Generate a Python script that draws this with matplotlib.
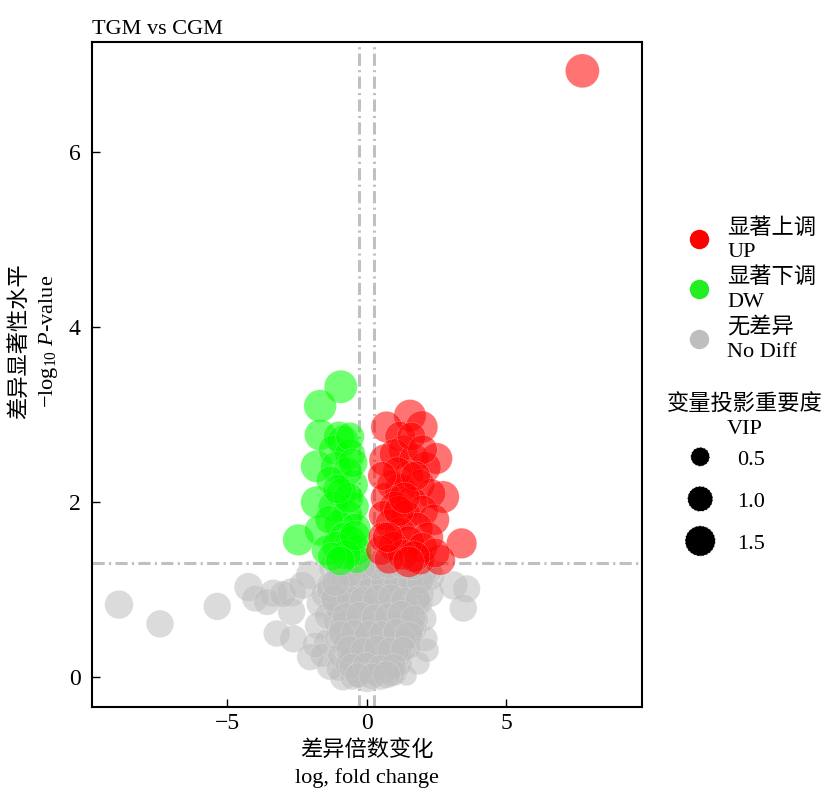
import matplotlib
matplotlib.use("Agg")
import matplotlib.pyplot as plt
from matplotlib.lines import Line2D

plt.rcParams['font.family'] = ['Liberation Serif', 'Noto Sans CJK SC']
plt.rcParams['mathtext.fontset'] = 'custom'
plt.rcParams['mathtext.rm'] = 'Liberation Serif'
plt.rcParams['mathtext.it'] = 'Liberation Serif:italic'

# significantly up-regulated (red)
up_x = [7.73, 1.55, 0.71, 1.97, 0.66, 2.51, 2.74, 3.40, 2.63, 1.91,
        1.20, 1.30, 1.00, 1.70, 2.10, 1.50, 0.90, 1.20, 1.90, 2.30,
        0.70, 1.60, 1.00, 2.00, 0.60, 1.40, 2.40, 0.85, 1.80, 1.20,
        2.20, 0.60, 1.50, 0.95, 2.00, 0.50, 1.30, 2.45, 1.70, 0.80,
        1.50, 1.10, 1.60, 2.00, 0.55, 1.15, 1.75, 0.75, 1.35]
up_y = [6.93, 2.99, 2.86, 2.86, 2.48, 2.50, 2.06, 1.53, 1.34, 1.34,
        2.75, 2.60, 2.55, 2.50, 2.40, 2.30, 2.20, 2.15, 2.20, 2.10,
        2.05, 2.00, 1.95, 1.90, 1.85, 1.85, 1.80, 1.75, 1.70, 1.65,
        1.60, 1.60, 1.55, 1.50, 1.48, 1.45, 1.40, 1.42, 1.38, 1.35,
        1.32, 2.35, 2.75, 2.60, 2.30, 1.90, 2.30, 1.60, 2.05]
up_vip = [1.90, 1.70, 1.60, 1.70, 1.70, 1.60, 1.70, 1.50, 1.50, 1.40,
          1.50, 1.40, 1.50, 1.40, 1.60, 1.50, 1.40, 1.60, 1.50, 1.40,
          1.60, 1.70, 1.50, 1.60, 1.40, 1.50, 1.60, 1.50, 1.70, 1.60,
          1.50, 1.50, 1.60, 1.40, 1.50, 1.40, 1.50, 1.40, 1.60, 1.40,
          1.60, 1.40, 1.30, 1.40, 1.30, 1.50, 1.40, 1.50, 1.60]

# significantly down-regulated (green)
dw_x = [-0.93, -1.67, -1.67, -1.79, -1.79, -2.45, -1.67, -1.43, -0.36, -1.00,
        -0.85, -1.20, -0.60, -1.10, -0.70, -0.50, -1.30, -0.90, -0.45, -1.20,
        -0.70, -1.00, -0.40, -1.35, -0.80, -0.55, -1.10, -0.35, -0.75, -1.25,
        -0.60, -0.50, -0.95, -0.65, -1.05, -0.42]
dw_y = [3.32, 3.10, 2.77, 2.41, 2.00, 1.57, 1.68, 1.45, 1.45, 2.75,
        2.70, 2.60, 2.55, 2.40, 2.35, 2.20, 2.25, 2.10, 1.95, 1.95,
        1.85, 1.75, 1.70, 1.80, 1.60, 1.55, 1.50, 1.35, 1.40, 1.38,
        2.75, 2.45, 1.33, 2.05, 2.15, 1.62]
dw_vip = [1.80, 1.75, 1.60, 1.70, 1.70, 1.60, 1.60, 1.50, 1.40, 1.50,
          1.60, 1.40, 1.50, 1.60, 1.40, 1.50, 1.30, 1.50, 1.40, 1.50,
          1.60, 1.40, 1.50, 1.30, 1.50, 1.60, 1.40, 1.30, 1.50, 1.30,
          1.30, 1.40, 1.40, 1.50, 1.40, 1.50]

# no difference (grey)
nd_x = [-8.88, -7.41, -5.36, -4.24, -4.00, -3.35, -3.58, -2.69, -2.69, -3.23,
        -2.63, -2.03, -2.03, -1.67, -1.73, -1.85, -1.32, -0.85, 1.85, 1.43,
        2.09, 2.03, 2.27, 3.10, 3.58, 3.46, 2.15, -3.00, -2.30, -1.50,
        -1.40, -1.45, -1.60, -1.00, -0.50, 0.00, 0.50, 1.00, 1.20, 1.50,
        1.70, 1.90, 2.30, 1.80,
        -1.22, -0.68, -0.17, 0.31, 0.83, 1.28, 1.77, 2.21,
        -0.98, -0.52, 0.04, 0.47, 1.03, 1.52, 2.02,
        -1.31, -0.79, -0.27, 0.22, 0.68, 1.19, 1.72,
        -1.07, -0.63, -0.12, 0.41, 0.92, 1.37, 1.96,
        -1.18, -0.71, -0.23, 0.28, 0.79, 1.33, 1.81,
        -0.97, -0.48, 0.02, 0.53, 1.04, 1.49,
        -1.12, -0.57, -0.08, 0.38, 0.91, 1.42, 1.78,
        -0.88, -0.42, 0.13, 0.61, 1.09, 1.58,
        -1.03, -0.51, 0.01, 0.49, 0.98, 1.36,
        -0.79, -0.31, 0.18, 0.72, 1.17,
        -0.92, -0.38, 0.09, 0.58, 1.12,
        -0.68, -0.21, 0.27, 0.83,
        -0.41, 0.12, 0.63,
        -0.95, -0.44, 0.07, 0.56, 1.06, 1.55, 2.05,
        -1.35, -0.85, -0.33, 0.17, 0.66, 1.16, 1.63,
        -1.01, -0.55, -0.04, 0.45, 0.97, 1.46,
        -0.83, -0.36, 0.16, 0.67, 1.14, 1.62,
        -0.72, -0.26, 0.24, 0.74, 1.27,
        -0.57, -0.07, 0.43, 0.94,
        -0.47, 0.03, 0.52, 1.02,
        -0.28, 0.33, 0.88,
        -0.82, -0.34, 0.14, 0.63, 1.11, 1.58, 1.92,
        -1.15, -0.62, -0.14, 0.36, 0.86, 1.34, 1.84,
        -0.76, -0.24, 0.26, 0.77, 1.24, 1.68,
        -0.93, -0.45, 0.06, 0.55, 1.07, 1.52,
        -0.61, -0.13, 0.37, 0.86, 1.31,
        -0.52, -0.02, 0.48, 0.96,
        -0.33, 0.19, 0.71,
        -0.18, 0.34, 0.78, 1.21, 1.63, -0.64, -1.12]
nd_y = [0.83, 0.61, 0.81, 1.03, 0.90, 0.96, 0.86, 0.97, 0.75, 0.50,
        0.44, 1.17, 0.23, 0.84, 0.59, 0.37, 0.12, 0.00, 0.16, 0.02,
        0.44, 0.67, 0.96, 1.05, 1.01, 0.79, 0.31, 0.95, 1.05, 0.95,
        0.70, 0.40, 0.25, 0.10, 0.00, -0.02, 0.00, 0.05, 0.15, 0.35,
        0.55, 0.85, 1.15, 1.05,
        1.25, 1.27, 1.24, 1.26, 1.25, 1.23, 1.26, 1.22,
        1.15, 1.14, 1.17, 1.15, 1.16, 1.13, 1.15,
        1.05, 1.06, 1.04, 1.07, 1.05, 1.03, 1.06,
        0.95, 0.96, 0.94, 0.95, 0.97, 0.93, 0.95,
        0.85, 0.86, 0.84, 0.87, 0.85, 0.83, 0.86,
        0.75, 0.76, 0.74, 0.75, 0.77, 0.73,
        0.65, 0.66, 0.64, 0.65, 0.67, 0.63, 0.66,
        0.55, 0.56, 0.54, 0.57, 0.55, 0.53,
        0.45, 0.46, 0.44, 0.45, 0.47, 0.43,
        0.35, 0.36, 0.34, 0.37, 0.35,
        0.25, 0.26, 0.24, 0.27, 0.25,
        0.15, 0.16, 0.14, 0.17,
        0.08, 0.07, 0.09,
        1.20, 1.21, 1.19, 1.20, 1.22, 1.18, 1.20,
        1.00, 1.01, 0.99, 1.00, 1.02, 0.98, 1.01,
        0.80, 0.81, 0.79, 0.80, 0.82, 0.78,
        0.60, 0.61, 0.59, 0.60, 0.62, 0.58,
        0.40, 0.41, 0.39, 0.40, 0.42,
        0.20, 0.21, 0.19, 0.20,
        0.30, 0.31, 0.29, 0.30,
        0.03, 0.04, 0.05,
        1.10, 1.09, 1.11, 1.10, 1.08, 1.12, 1.10,
        0.90, 0.91, 0.89, 0.90, 0.92, 0.88, 0.90,
        0.70, 0.71, 0.69, 0.70, 0.72, 0.68,
        0.50, 0.51, 0.49, 0.50, 0.52, 0.48,
        0.32, 0.31, 0.33, 0.30, 0.32,
        0.12, 0.13, 0.11, 0.12,
        0.02, 0.01, 0.03,
        1.28, 1.27, 1.28, 1.29, 1.27, 1.18, 1.08]
nd_vip = [1.30, 1.20, 1.20, 1.30, 1.10, 1.20, 1.10, 1.30, 1.20, 1.10,
          1.20, 1.30, 1.10, 1.20, 1.20, 1.00, 1.10, 1.10, 0.80, 0.60,
          1.00, 1.10, 1.20, 1.30, 1.20, 1.20, 0.90, 1.10, 1.20, 1.20,
          1.10, 1.00, 0.90, 1.00, 1.00, 1.10, 1.00, 1.00, 0.90, 1.00,
          1.00, 1.10, 1.20, 1.10,
          1.20, 1.10, 1.00, 1.20, 1.10, 1.30, 1.00, 1.20,
          1.00, 1.20, 0.90, 1.10, 1.20, 1.00, 1.10,
          1.10, 0.90, 1.20, 1.00, 1.10, 1.20, 1.00,
          1.20, 1.00, 1.10, 0.90, 1.20, 1.10, 1.00,
          0.90, 1.10, 1.00, 1.20, 0.90, 1.10, 1.20,
          1.10, 1.20, 0.90, 1.00, 1.10, 1.20,
          1.00, 1.10, 1.20, 0.90, 1.00, 1.10, 0.90,
          1.20, 0.90, 1.10, 1.00, 1.20, 1.00,
          1.10, 1.00, 1.20, 0.90, 1.10, 0.90,
          1.00, 1.20, 1.10, 0.90, 1.00,
          1.10, 0.90, 1.20, 1.00, 1.10,
          1.00, 1.10, 0.90, 1.00,
          1.10, 1.00, 1.20,
          1.20, 1.10, 1.00, 1.20, 1.10, 1.00, 1.10,
          1.00, 1.20, 1.10, 1.00, 1.20, 1.10, 1.00,
          1.10, 1.00, 1.20, 1.10, 1.00, 1.20,
          1.20, 1.10, 1.00, 1.20, 1.10, 1.00,
          1.00, 1.20, 1.10, 1.00, 1.20,
          1.10, 1.00, 1.20, 1.10,
          1.20, 1.10, 1.00, 1.20,
          1.10, 1.00, 1.20,
          1.10, 1.20, 1.00, 1.10, 1.20, 1.00, 1.10,
          1.20, 1.00, 1.10, 1.20, 1.00, 1.10, 1.00,
          1.10, 1.20, 1.00, 1.10, 1.20, 1.00,
          1.00, 1.10, 1.20, 1.00, 1.10, 1.20,
          1.20, 1.00, 1.10, 1.20, 1.00,
          1.10, 1.20, 1.00, 1.10,
          1.00, 1.10, 1.20,
          1.20, 1.10, 1.20, 1.10, 1.20, 1.10, 1.20]

fc_cut = [-0.29, 0.26]
p_cut = 1.3
vip_keys = [0.5, 1.0, 1.5]


def vip_size(v):
    return 45 + 290 * v


fig = plt.figure(figsize=(8.26, 7.92), dpi=100)
ax = fig.add_axes([0.111, 0.107, 0.666, 0.840])

ls_ref = (0, (4, 1.4, 0.7, 1.4))
ax.axhline(p_cut, color='#C0C0C0', lw=2.2, ls=ls_ref, zorder=1)
for c in fc_cut:
    ax.axvline(c, color='#C0C0C0', lw=2.2, ls=ls_ref, zorder=1)

kw = dict(alpha=0.55, edgecolors='white', linewidths=0.35, linestyle=(0, (3, 1.5)))
ax.scatter(nd_x, nd_y, s=[vip_size(v) for v in nd_vip], c='#BEBEBE', zorder=2, **kw)
ax.scatter(dw_x, dw_y, s=[vip_size(v) for v in dw_vip], c='#00FF00', zorder=3, **kw)
ax.scatter(up_x, up_y, s=[vip_size(v) for v in up_vip], c='#FF0000', zorder=3, **kw)

ax.set_xlim(-9.86, 9.86)
ax.set_ylim(-0.343, 7.26)
ax.set_xticks([-5, 0, 5])
ax.set_xticklabels(['\u22125', '0', '5'])
ax.set_yticks([0, 2, 4, 6])
ax.tick_params(direction='in', length=6, width=1, labelsize=17)
ax.tick_params(axis='y', pad=8)
ax.tick_params(axis='x', pad=4)
for sp in ax.spines.values():
    sp.set_linewidth(1.5)

ax.set_title('TGM vs CGM', loc='left', fontsize=16, pad=6)
ax.set_xlabel('差异倍数变化\nlog, fold change', fontsize=16, labelpad=5, linespacing=1.4)
ax.set_ylabel('差异显著性水平\n\u2212log$_{10}$ $\\mathit{P}$-value', fontsize=16, linespacing=1.4)
ax.yaxis.set_label_coords(-0.058, 0.55)

# colour legend
col_handles = [Line2D([], [], marker='o', ls='', markersize=14, markerfacecolor=c, markeredgecolor='none')
               for c in ['#FF0000', '#22EE22', '#BEBEBE']]
col_labels = ['显著上调\nUP', '显著下调\nDW', '无差异\nNo Diff']
leg1 = fig.legend(col_handles, col_labels, loc='upper left', bbox_to_anchor=(686 / 826, 1 - 218 / 792),
                  frameon=False, fontsize=16, borderpad=0, borderaxespad=0, handlelength=1.2,
                  handletextpad=0.66, labelspacing=0.26)
for t in leg1.get_texts():
    t.set_linespacing(1.3)

# size legend
fig.text(745 / 826, 1 - 417 / 792, '变量投影重要度\nVIP', fontsize=16, ha='center', va='center',
         multialignment='center', linespacing=1.3)
size_handles = [ax.scatter([], [], s=vip_size(v), c='black', edgecolors='white', linewidths=0.6,
                           linestyle=(0, (3, 1.5))) for v in vip_keys]
leg2 = fig.legend(size_handles, ['0.5', '1.0', '1.5'], loc='upper left',
                  bbox_to_anchor=(668 / 826, 1 - 449 / 792), frameon=False, fontsize=16,
                  borderpad=0, borderaxespad=0, handlelength=2.9, handletextpad=0.2,
                  labelspacing=0.97, scatteryoffsets=[0.5])

fig.savefig('out.png', dpi=100)
